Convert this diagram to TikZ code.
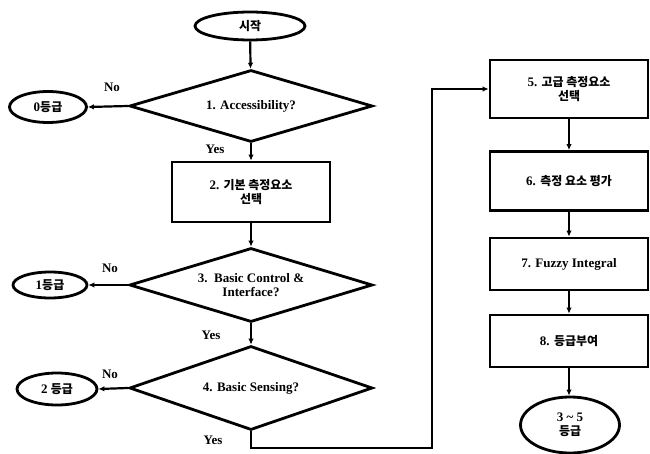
\documentclass[tikz,border=0pt]{standalone}
\usepackage{fontspec}
\setmainfont{Liberation Serif}
\newfontfamily\kr{Noto Sans CJK KR}[Scale=0.92]
\usetikzlibrary{shapes.geometric,arrows.meta}
\tikzset{
  base/.style={draw=black,line width=2.8pt,font=\bfseries\fontsize{13}{14.5}\selectfont,align=center,inner sep=0pt},
  term/.style={base,ellipse},
  proc/.style={base,rectangle,minimum width=158pt},
  decide/.style={base,diamond,aspect=3.4,minimum width=243pt},
  flow/.style={line width=2.2pt,-{Latex[length=6pt,width=5.5pt]}},
  lbl/.style={font=\bfseries\fontsize{13}{14.5}\selectfont,inner sep=0pt}
}
\begin{document}
\begin{tikzpicture}[x=1pt,y=-1pt]
\useasboundingbox (0,0) rectangle (650,454);
% left column
\node[term,minimum width=110pt,minimum height=28pt] (start) at (250,26) {\kr 시작};
\node[decide,minimum height=72pt] (d1) at (251,106) {1. Accessibility?};
\node[term,minimum width=77pt,minimum height=31pt] (g0) at (48,107) {0{\kr 등급}};
\node[proc,minimum height=60pt] (b2) at (251,192) {2. {\kr 기본 측정요소}\\{\kr 선택}};
\node[decide,minimum height=74pt] (d3) at (251,285) {3.\ \ Basic Control \&\\Interface?};
\node[term,minimum width=74pt,minimum height=26pt] (g1) at (50,285) {1{\kr 등급}};
\node[decide,minimum height=84pt] (d4) at (251,388) {4. Basic Sensing?};
\node[term,minimum width=80pt,minimum height=32pt] (g2) at (57,389) {2 {\kr 등급}};
% right column
\node[proc,minimum height=58pt] (b5) at (569,89) {5. {\kr 고급 측정요소}\\{\kr 선택}};
\node[proc,minimum height=59pt] (b6) at (569,181) {6. {\kr 측정 요소 평가}};
\node[proc,minimum height=52pt] (b7) at (569,264) {7. Fuzzy Integral};
\node[proc,minimum height=52pt] (b8) at (569,341) {8. {\kr 등급부여}};
\node[term,minimum width=99pt,minimum height=56pt] (end) at (570,425) {3 \textasciitilde{} 5\\{\kr 등급}};
% labels
\node[lbl] (n1) at (112,87) {No};
\node[lbl] (y1) at (215,149) {Yes};
\node[lbl] (n3) at (110,268) {No};
\node[lbl] (y3) at (211,335) {Yes};
\node[lbl] (n4) at (110,374) {No};
\node[lbl] (y4) at (213,440) {Yes};
% connectors
\draw[flow] (start) -- (d1);
\draw[flow] (d1.west) -- (g0.east);
\draw[flow] (d1.south) -- (b2.north);
\draw[flow] (b2) -- (d3);
\draw[flow] (d3.west) -- (g1.east);
\draw[flow] (d3.south) -- (d4.north);
\draw[flow] (d4.west) -- (g2.east);
\coordinate (c1) at (432,448);
\draw[flow] (d4.south) |- (c1) |- (b5.west);
\draw[flow] (b5) -- (b6);
\draw[flow] (b6) -- (b7);
\draw[flow] (b7) -- (b8);
\draw[flow] (b8.south) -- (b8.south |- end.north);
\end{tikzpicture}
\end{document}
